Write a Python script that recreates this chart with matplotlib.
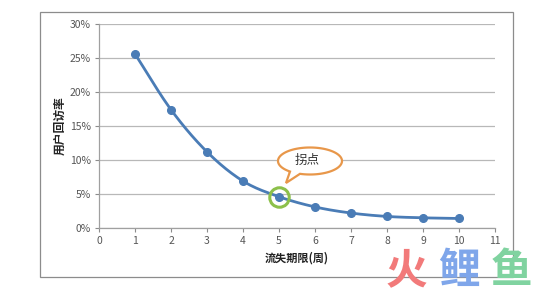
import numpy as np
import matplotlib
matplotlib.use("Agg")
import matplotlib.pyplot as plt
from matplotlib.patches import Rectangle, Polygon

plt.rcParams['font.family'] = ['Noto Sans CJK SC', 'DejaVu Sans']

# data
weeks = [1, 2, 3, 4, 5, 6, 7, 8, 9, 10]
revisit = [25.6, 17.4, 11.2, 6.9, 4.6, 3.1, 2.2, 1.7, 1.5, 1.4]
yticks = [0, 5, 10, 15, 20, 25, 30]
xticks = list(range(0, 12))
xlabel = "流失期限(周)"
ylabel = "用户回访率"
callout = "拐点"
knee_week = 5


def smooth(xs, ys, n=20):
    """catmull-rom curve through the points (like excel's smoothed line)"""
    x = np.asarray(xs, float)
    y = np.asarray(ys, float)
    px = np.concatenate([[2*x[0]-x[1]], x, [2*x[-1]-x[-2]]])
    py = np.concatenate([[2*y[0]-y[1]], y, [2*y[-1]-y[-2]]])
    outx, outy = [], []
    t = np.linspace(0, 1, n)
    for i in range(1, len(px)-2):
        for p, out in ((px, outx), (py, outy)):
            p0, p1, p2, p3 = p[i-1], p[i], p[i+1], p[i+2]
            out.extend(0.5*((2*p1) + (-p0+p2)*t + (2*p0-5*p1+4*p2-p3)*t**2
                            + (-p0+3*p1-3*p2+p3)*t**3))
    return outx, outy


W, H = 553, 293
fig = plt.figure(figsize=(W/100, H/100), dpi=100)
fig.patch.set_facecolor("white")


def fig_xy(px, py):
    """pixel position (y down) -> figure fraction"""
    return (px/W, 1-py/H)


# outer chart border
fig.patches.append(Rectangle(fig_xy(40, 277), 473/W, 265/H, transform=fig.transFigure,
                             fill=False, edgecolor="#8c8c8c", linewidth=0.9))

ax = fig.add_axes([99/W, 1-228/H, 396/W, 204/H])
ax.set_xlim(0, 11)
ax.set_ylim(0, 30)
ax.set_xticks(xticks)
ax.set_yticks(yticks)
ax.set_yticklabels(["%d%%" % v for v in yticks])
ax.tick_params(axis="both", labelsize=7.5, colors="#8c8c8c", labelcolor="#555555",
               length=3, width=0.8, pad=3)
for s in ("top", "right"):
    ax.spines[s].set_visible(False)
for s in ("left", "bottom"):
    ax.spines[s].set_color("#a0a0a0")
    ax.spines[s].set_linewidth(0.9)
ax.yaxis.grid(True, color="#b8b8b8", linewidth=0.9)
ax.set_axisbelow(True)

sx, sy = smooth(weeks, revisit)
ax.plot(sx, sy, color="#4a7cb6", linewidth=2.0, zorder=3)
ax.plot(weeks, revisit, "o", color="#4a7cb6", markersize=5.5, zorder=4)

ax.set_xlabel(xlabel, fontsize=8, fontweight="bold", color="#222222", labelpad=4)
ax.set_ylabel(ylabel, fontsize=8.5, fontweight="bold", color="#222222", labelpad=2)

# green ring around the knee point
kx, ky = knee_week, revisit[weeks.index(knee_week)]
ax.plot([kx], [ky], "o", markersize=14, markerfacecolor="none",
        markeredgecolor="#8cc04a", markeredgewidth=2.2, zorder=5)

# speech bubble: ellipse with a tail pointing at the ring
cx, cy, a, b = 310, 161, 32, 13.5
t0 = np.arccos(-20/32)
t1 = 2*np.pi + np.arccos(-10/32)
tt = np.linspace(t0, t1, 120)
pts = [fig_xy(cx + a*np.cos(v), cy + b*np.sin(v)) for v in tt]
pts.append(fig_xy(286, 183))
fig.patches.append(Polygon(pts, closed=True, transform=fig.transFigure,
                           facecolor="white", edgecolor="#e8974a", linewidth=1.6,
                           zorder=6))
fig.text(*fig_xy(307, 160), callout, fontsize=9, ha="center", va="center",
         color="#333333", zorder=8)

# watermark
for ch, px, col in (("火", 406, "#f27a7a"), ("鲤", 459, "#7fa6ea"), ("鱼", 511, "#80d3a0")):
    fig.text(*fig_xy(px, 271), ch, fontsize=30, color=col, fontweight="bold",
             ha="center", va="center")

fig.savefig("out.png", dpi=100)
